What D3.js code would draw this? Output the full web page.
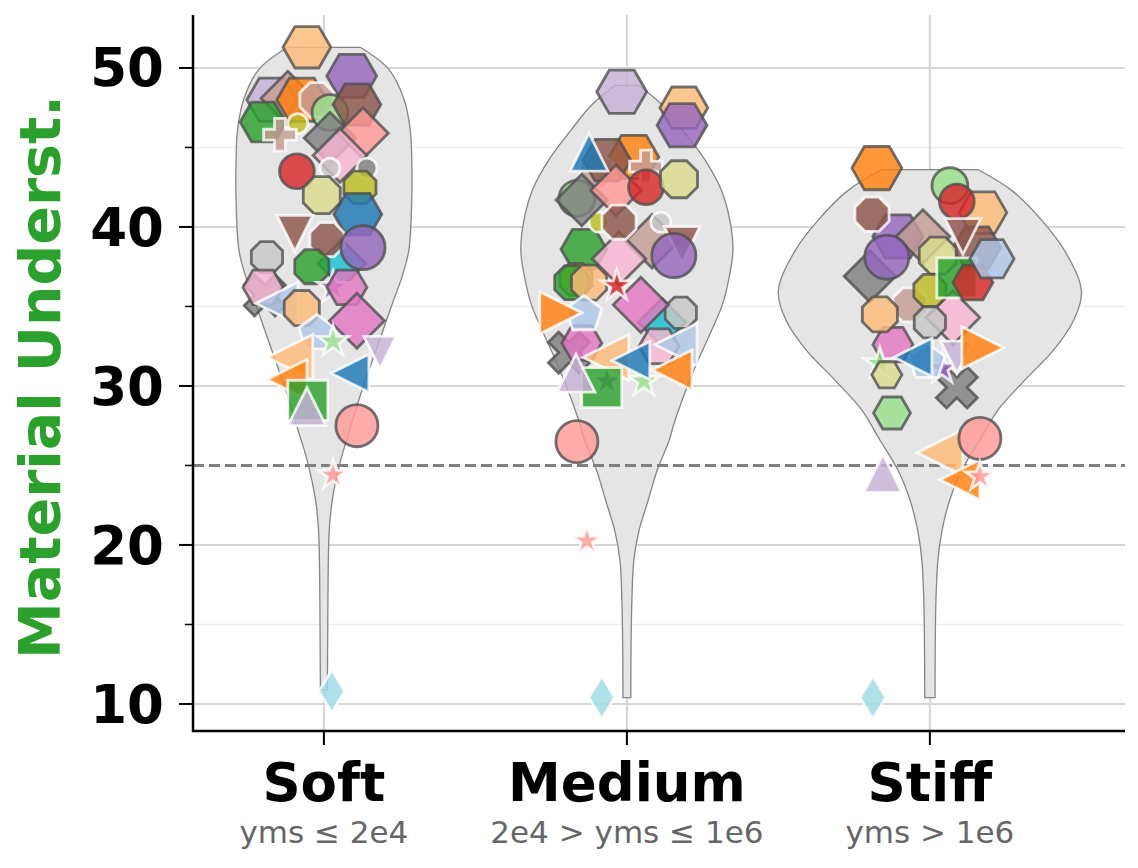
<!DOCTYPE html>
<html>
<head>
<meta charset="utf-8">
<script src="https://cdn.jsdelivr.net/npm/d3@7"></script>
<style>
  body { margin: 0; background: #fff; }
  text { font-family: "DejaVu Sans", sans-serif; }
</style>
</head>
<body>
<svg id="chart" width="1138" height="868"></svg>
<script>
const categories = ["Soft", "Medium", "Stiff"];
const subLabels = ["yms \u2264 2e4", "2e4 > yms \u2264 1e6", "yms > 1e6"];
const yTicks = [10, 20, 30, 40, 50];
const yMinorTicks = [15, 25, 35, 45];
const chanceLevel = 25;

// violin profiles: score levels and relative density (1 = widest violin)
const softViolinLevels = [51.3, 49.9, 48.0, 46.1, 44.2, 41.7, 38.5, 36.7, 35.4, 33.5, 31.6, 29.1, 27.2, 25.3, 22.8, 20.9, 18.0, 14.0, 10.9];
const softViolinDensity = [0.24, 0.43, 0.53, 0.57, 0.58, 0.58, 0.56, 0.51, 0.46, 0.39, 0.32, 0.23, 0.17, 0.11, 0.055, 0.035, 0.028, 0.025, 0.023];
const mediumViolinLevels = [48.9, 47.7, 46.2, 44.3, 42.4, 40.4, 38.5, 36.6, 35.1, 33.3, 31.4, 29.5, 27.6, 26.6, 24.7, 22.8, 20.9, 19.05, 16.5, 13.0, 10.4];
const mediumViolinDensity = [0.08, 0.23, 0.36, 0.51, 0.62, 0.68, 0.70, 0.67, 0.63, 0.55, 0.46, 0.38, 0.31, 0.28, 0.20, 0.14, 0.08, 0.046, 0.033, 0.027, 0.026];
const stiffViolinLevels = [43.6, 42.3, 40.4, 38.5, 36.0, 34.15, 32.3, 30.4, 28.5, 26.6, 24.7, 22.8, 20.9, 19.05, 16.5, 13.0, 10.4];
const stiffViolinDensity = [0.32, 0.54, 0.74, 0.89, 1.0, 0.95, 0.82, 0.63, 0.45, 0.33, 0.21, 0.13, 0.08, 0.053, 0.04, 0.035, 0.034];

// one entry per model: colour, marker, edge, relative marker size
const modelColors = ["#7f7f7f", "#ffbb78", "#9467bd", "#c5b0d5", "#c49c94", "#ff7f0e", "#c49c94", "#98df8a", "#8c564b", "#2ca02c", "#bcbd22",
  "#c49c94", "#7f7f7f", "#ff9896", "#17becf", "#f7b6d2", "#d62728", "#c7c7c7", "#7f7f7f", "#dbdb8d", "#bcbd22",
  "#1f77b4", "#8c564b", "#8c564b", "#9467bd", "#c7c7c7", "#2ca02c", "#9467bd", "#e377c2", "#f7b6d2", "#aec7e8",
  "#ffbb78", "#aec7e8", "#e377c2", "#98df8a", "#ffbb78", "#c5b0d5", "#1f77b4", "#ff7f0e", "#2ca02c", "#c5b0d5",
  "#ff9896", "#ff9896", "#9edae5", "#1f77b4", "#d62728", "#ff7f0e", "#98df8a", "#dbdb8d", "#d62728", "#aec7e8"];
const modelMarkers = ["X", "H", "H", "H", "D", "H", "8", "o", "H", "H", ".",
  "P", "D", "D", "D", "D", "o", ".", ".", "8", "8",
  "H", "v", "8", "o", "8", "8", "*", "H", "H", "<",
  "8", "p", "D", "*", "<", "v", "<", "<", "s", "^",
  "o", "*", "d", "^", "*", ">", "H", "H", "H", "H"];
const modelEdges = ["g", "g", "g", "g", "g", "g", "w", "g", "g", "g", "w",
  "w", "g", "g", "g", "g", "g", "w", "w", "g", "g",
  "g", "w", "w", "g", "g", "g", "w", "g", "g", "w",
  "g", "w", "g", "w", "w", "w", "w", "w", "w", "w",
  "g", "w", "w", "w", "w", "w", "g", "g", "g", "g"];
const modelSizes = [0.73, 0.92, 0.96, 0.96, 0.73, 0.96, 0.71, 0.69, 0.92, 0.88, 0.77,
  0.63, 0.70, 0.69, 0.65, 0.73, 0.67, 0.77, 0.77, 0.77, 0.67,
  0.92, 0.69, 0.71, 0.85, 0.65, 0.71, 0.63, 0.77, 0.77, 0.81,
  0.73, 0.73, 0.75, 0.63, 0.88, 0.62, 0.73, 0.77, 0.77, 0.73,
  0.81, 0.58, 0.58, 0.73, 0.62, 0.81, 0.71, 0.58, 0.77, 0.85];

// scores per stiffness group (null = not shown)
const softScores = [35.7, 51.3, 49.5, 48.0, 48.1, 48.0, 48.0, 47.2, 47.7, 46.6, 46.5,
  45.8, 45.6, 45.9, 37.7, 44.5, 43.5, 43.7, 43.7, 42.0, 42.5,
  40.8, 39.6, 39.2, 38.7, 38.1, 37.5, 36.2, 36.2, 36.2, 35.2,
  34.9, 33.3, 34.1, 32.8, 31.8, 32.1, 30.8, 30.4, 29.1, 28.7,
  27.5, 24.4, 10.8, null, null, null, null, null, null, null];
const mediumScores = [32.1, 47.5, 46.4, 48.5, 39.1, 44.4, 43.5, 41.8, 44.2, 38.6, 40.3,
  43.8, 41.7, 42.3, 34.0, 38.0, 42.5, 40.3, null, 43.0, 36.7,
  null, 38.9, 40.3, 38.2, 34.6, 36.5, 30.3, 32.7, 32.5, 32.6,
  36.5, 34.5, 35.1, 30.3, 31.8, null, 31.6, 31.0, 29.9, 30.8,
  26.5, 20.25, 10.4, 44.7, 36.3, 34.6, null, null, null, null];
const stiffScores = [29.9, 40.9, 39.4, null, 39.4, 43.7, 35.1, 42.6, 38.7, null, null,
  null, 36.9, null, null, 34.3, 41.6, null, null, 38.2, 36.0,
  null, 39.4, 40.8, 38.1, 34.0, null, 31.1, 32.6, null, null,
  34.5, 31.5, null, 31.4, 25.8, 31.8, 31.8, 24.1, 36.8, 24.5,
  26.7, 24.3, 10.4, null, null, 32.4, 28.3, 30.7, 36.5, 38.0];

// horizontal jitter, in category units
const softJitter = [-0.195, -0.056, 0.092, -0.172, -0.119, -0.073, -0.023, 0.020, 0.109, -0.201, -0.086,
  -0.145, 0.020, 0.129, 0.059, 0.053, -0.089, 0.020, 0.142, -0.007, 0.119,
  0.112, -0.096, 0.010, 0.129, -0.188, -0.040, 0.030, 0.076, -0.201, -0.155,
  -0.073, -0.023, 0.109, 0.030, -0.112, 0.185, 0.086, -0.122, -0.053, -0.056,
  0.109, 0.030, 0.026, 0, 0, 0, 0, 0, 0, 0];
const mediumJitter = [-0.191, 0.188, 0.182, -0.017, 0.083, 0.023, -0.099, -0.165, -0.066, -0.142, -0.092,
  0.063, -0.149, -0.036, 0.116, -0.026, 0.063, 0.112, 0, 0.172, -0.168,
  0, 0.182, -0.026, 0.155, 0.178, -0.182, -0.066, -0.149, 0.106, 0.162,
  -0.125, -0.142, 0.046, 0.056, -0.069, 0, 0.013, 0.149, -0.083, -0.168,
  -0.165, -0.132, -0.083, -0.125, -0.033, -0.218, 0, 0, 0, 0];
const stiffJitter = [0.089, 0.175, -0.106, 0, -0.023, -0.175, -0.066, 0.066, 0.155, 0, 0,
  0, -0.198, 0, 0, 0.076, 0.089, 0, 0, 0.026, 0,
  0, 0.109, -0.191, -0.142, 0, 0, 0.040, -0.122, 0, 0,
  -0.165, -0.010, 0, -0.165, 0.033, 0.089, -0.056, 0.099, 0.089, -0.155,
  0.165, 0.165, -0.188, 0, 0, 0.175, -0.125, -0.142, 0.142, 0.205];

const groupScores = [softScores, mediumScores, stiffScores];
const groupJitter = [softJitter, mediumJitter, stiffJitter];
const violinLevels = [softViolinLevels, mediumViolinLevels, stiffViolinLevels];
const violinDensity = [softViolinDensity, mediumViolinDensity, stiffViolinDensity];

const svg = d3.select("#chart");
const plotLeft = 193, plotRight = 1125, plotTop = 15, plotBottom = 731;

const x = d3.scaleLinear().domain([-0.432, 2.644]).range([plotLeft, plotRight]);
const y = d3.scaleLinear().domain([8.3, 53.33]).range([plotBottom, plotTop]);
const size = d3.scaleLinear().domain([0, 1]).range([0, 52]);
const halfWidth = d3.scaleLinear().domain([0, 1]).range([0, 0.5]);

// grid
svg.append("g").selectAll("line").data(yMinorTicks).join("line")
  .attr("x1", plotLeft).attr("x2", plotRight)
  .attr("y1", d => y(d)).attr("y2", d => y(d))
  .attr("stroke", "#efefef").attr("stroke-width", 1.5);
svg.append("g").selectAll("line").data(yTicks).join("line")
  .attr("x1", plotLeft).attr("x2", plotRight)
  .attr("y1", d => y(d)).attr("y2", d => y(d))
  .attr("stroke", "#d6d6d6").attr("stroke-width", 2);
svg.append("g").selectAll("line").data(categories).join("line")
  .attr("x1", (d, i) => x(i)).attr("x2", (d, i) => x(i))
  .attr("y1", plotTop).attr("y2", plotBottom)
  .attr("stroke", "#d6d6d6").attr("stroke-width", 2);

// violins
categories.forEach((c, i) => {
  const pts = violinLevels[i].map((v, k) => ({ v, dens: violinDensity[i][k] }));
  const area = d3.area()
    .curve(d3.curveCatmullRom)
    .y(d => y(d.v))
    .x0(d => x(i - halfWidth(d.dens)))
    .x1(d => x(i + halfWidth(d.dens)));
  svg.append("path")
    .attr("d", area(pts))
    .attr("fill", "#e5e5e5")
    .attr("stroke", "#858585")
    .attr("stroke-width", 1.3);
});

// chance line
svg.append("line")
  .attr("x1", plotLeft).attr("x2", plotRight)
  .attr("y1", y(chanceLevel)).attr("y2", y(chanceLevel))
  .attr("stroke", "#7f7f7f").attr("stroke-width", 3)
  .attr("stroke-dasharray", "11,5");

// marker shapes
function markerPath(shape, m) {
  const r = m / 2;
  const poly = (n, rot, rad) => d3.range(n).map(k => {
    const a = (rot + k * 360 / n) * Math.PI / 180;
    return [rad * Math.cos(a), rad * Math.sin(a)];
  });
  let pts;
  if (shape === "o" || shape === ".") {
    const p = d3.path();
    p.arc(0, 0, shape === "o" ? r : r / 2, 0, 2 * Math.PI);
    return p.toString();
  }
  const h = 0.707 * m;
  switch (shape) {
    case "H": pts = poly(6, 0, r); break;
    case "8": pts = poly(8, 22.5, r); break;
    case "p": pts = poly(5, -90, r); break;
    case "D": pts = [[0, -h], [h, 0], [0, h], [-h, 0]]; break;
    case "d": pts = [[0, -h], [0.6 * h, 0], [0, h], [-0.6 * h, 0]]; break;
    case "s": pts = [[-r, -r], [r, -r], [r, r], [-r, r]]; break;
    case "^": pts = [[0, -r], [r, r], [-r, r]]; break;
    case "v": pts = [[0, r], [r, -r], [-r, -r]]; break;
    case "<": pts = [[-r, 0], [r, -r], [r, r]]; break;
    case ">": pts = [[r, 0], [-r, -r], [-r, r]]; break;
    case "*":
      pts = d3.range(10).map(k => {
        const a = (-90 + k * 36) * Math.PI / 180;
        const rad = k % 2 ? r * 0.382 : r;
        return [rad * Math.cos(a), rad * Math.sin(a)];
      });
      break;
    case "P":
    case "X": {
      const b = r / 3;
      pts = [[-b, -r], [b, -r], [b, -b], [r, -b], [r, b], [b, b], [b, r], [-b, r], [-b, b], [-r, b], [-r, -b], [-b, -b]];
      if (shape === "X") {
        const c = Math.SQRT1_2;
        pts = pts.map(([px, py]) => [(px - py) * c * 1.15, (px + py) * c * 1.15]);
      }
      break;
    }
  }
  return "M" + pts.map(p => p.map(d => d.toFixed(2)).join(",")).join("L") + "Z";
}

groupScores.forEach((scores, i) => {
  const pts = scores.map((s, k) => ({ s, k })).filter(d => d.s != null);
  svg.append("g").selectAll("path").data(pts).join("path")
    .attr("transform", d => `translate(${x(i + groupJitter[i][d.k])},${y(d.s)})`)
    .attr("d", d => markerPath(modelMarkers[d.k], size(modelSizes[d.k])))
    .attr("fill", d => modelColors[d.k])
    .attr("fill-opacity", 0.82)
    .attr("stroke", d => modelEdges[d.k] === "g" ? "#505050" : "#ffffff")
    .attr("stroke-opacity", 0.8)
    .attr("stroke-width", 2.8)
    .attr("stroke-linejoin", "miter");
});

// axes
svg.append("line").attr("x1", plotLeft).attr("x2", plotLeft).attr("y1", plotTop).attr("y2", plotBottom + 1)
  .attr("stroke", "#000").attr("stroke-width", 2.5);
svg.append("line").attr("x1", plotLeft - 1).attr("x2", plotRight).attr("y1", plotBottom).attr("y2", plotBottom)
  .attr("stroke", "#000").attr("stroke-width", 2.5);

svg.append("g").selectAll("line").data(yTicks).join("line")
  .attr("x1", plotLeft - 14).attr("x2", plotLeft)
  .attr("y1", d => y(d)).attr("y2", d => y(d))
  .attr("stroke", "#000").attr("stroke-width", 2);
svg.append("g").selectAll("line").data(yMinorTicks).join("line")
  .attr("x1", plotLeft - 8).attr("x2", plotLeft)
  .attr("y1", d => y(d)).attr("y2", d => y(d))
  .attr("stroke", "#000").attr("stroke-width", 1.5);
svg.append("g").selectAll("text").data(yTicks).join("text")
  .attr("x", 164).attr("y", d => y(d))
  .attr("dy", "0.35em")
  .attr("text-anchor", "end")
  .attr("font-size", 53).attr("font-weight", "bold")
  .text(d => d);

svg.append("g").selectAll("line").data(categories).join("line")
  .attr("x1", (d, i) => x(i)).attr("x2", (d, i) => x(i))
  .attr("y1", plotBottom).attr("y2", plotBottom + 14)
  .attr("stroke", "#000").attr("stroke-width", 2);
svg.append("g").selectAll("text").data(categories).join("text")
  .attr("x", (d, i) => x(i)).attr("y", 801)
  .attr("text-anchor", "middle")
  .attr("font-size", 53).attr("font-weight", "bold")
  .text(d => d);
svg.append("g").selectAll("text").data(subLabels).join("text")
  .attr("x", (d, i) => x(i)).attr("y", 843)
  .attr("text-anchor", "middle")
  .attr("font-size", 31).attr("fill", "#666")
  .text(d => d);

svg.append("text")
  .attr("transform", "translate(60,377) rotate(-90)")
  .attr("text-anchor", "middle")
  .attr("font-size", 57).attr("font-weight", "bold")
  .attr("fill", "#2ca02c")
  .text("Material Underst.");
</script>
</body>
</html>
